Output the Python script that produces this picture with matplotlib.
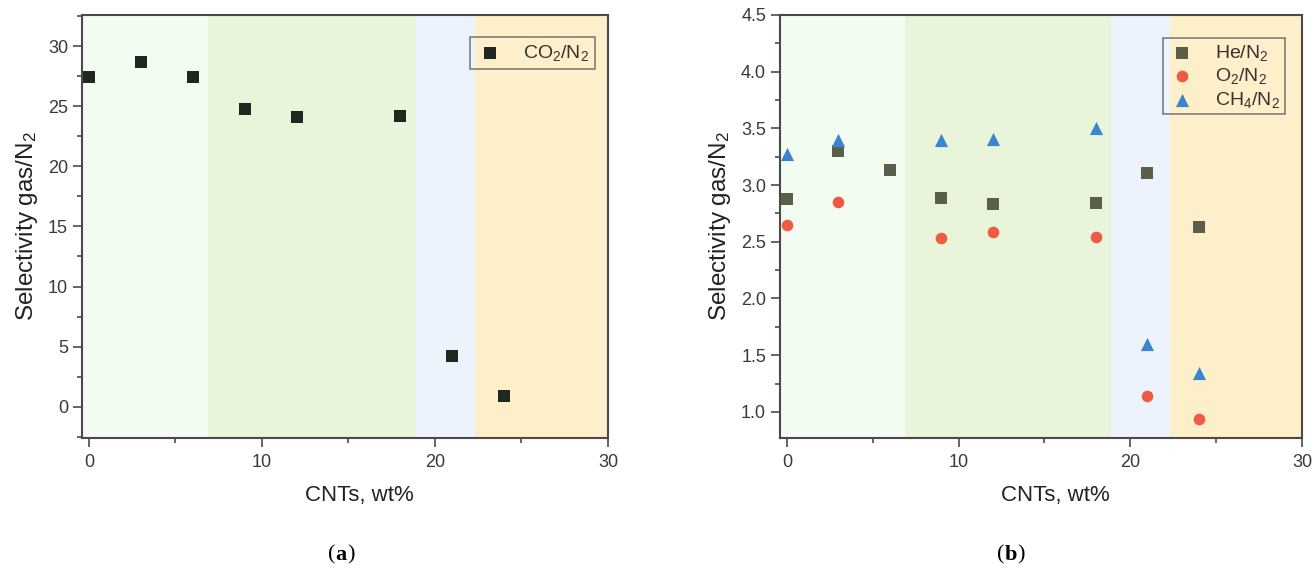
import matplotlib
matplotlib.use("Agg")
import matplotlib.pyplot as plt
from matplotlib.ticker import MultipleLocator, FormatStrFormatter

plt.rcParams["font.family"] = ["Liberation Sans", "DejaVu Sans"]
plt.rcParams["mathtext.fontset"] = "custom"
plt.rcParams["mathtext.rm"] = "Liberation Sans"
plt.rcParams["mathtext.it"] = "Liberation Sans:italic"
plt.rcParams["mathtext.bf"] = "Liberation Sans:bold"

# CNT loading (wt%)
cnt_a = [0, 3, 6, 9, 12, 18, 21, 24]
co2_n2 = [27.4, 28.7, 27.4, 24.8, 24.1, 24.2, 4.2, 0.9]

cnt_he = [0, 3, 6, 9, 12, 18, 21, 24]
he_n2 = [2.88, 3.30, 3.13, 2.89, 2.83, 2.84, 3.11, 2.63]

cnt_o2 = [0, 3, 9, 12, 18, 21, 24]
o2_n2 = [2.65, 2.85, 2.53, 2.59, 2.54, 1.14, 0.94]

cnt_ch4 = [0, 3, 9, 12, 18, 21, 24]
ch4_n2 = [3.27, 3.40, 3.40, 3.41, 3.50, 1.60, 1.34]

# composition regions along the CNT axis
region_edges = [-0.4, 6.9, 18.9, 22.3, 30.0]
region_colors = ["#f3fcf1", "#e8f5da", "#ecf3fc", "#fdefc9"]

spine_col = "#4a4a4a"
tick_col = "#3a3a3a"

fig = plt.figure(figsize=(13.16, 5.74), dpi=100)
ax_a = fig.add_axes([0.0623, 0.237, 0.3997, 0.737])
ax_b = fig.add_axes([0.5927, 0.237, 0.3966, 0.737])


def style_axes(ax, ylim, ymaj, ymin):
    ax.set_xlim(-0.4, 30)
    ax.set_ylim(*ylim)
    for i in range(len(region_colors)):
        ax.axvspan(region_edges[i], region_edges[i + 1], color=region_colors[i],
                   lw=0, zorder=0)
    ax.xaxis.set_major_locator(MultipleLocator(10))
    ax.xaxis.set_minor_locator(MultipleLocator(5))
    ax.yaxis.set_major_locator(MultipleLocator(ymaj))
    ax.yaxis.set_minor_locator(MultipleLocator(ymin))
    ax.tick_params(which="both", direction="out", colors=spine_col,
                   labelcolor=tick_col, labelsize=13, width=1.2)
    ax.tick_params(which="major", length=6.5, pad=3.5)
    ax.tick_params(which="minor", length=3.6)
    ax.tick_params(axis="x", which="major", pad=5)
    for s in ax.spines.values():
        s.set_color(spine_col)
        s.set_linewidth(1.5)
    ax.set_xlabel("CNTs, wt%", fontsize=16, color="#222222")
    ax.xaxis.set_label_coords(0.528, -0.137, transform=ax.transAxes)
    ax.xaxis.label.set_va("center")
    ax.set_ylabel("Selectivity gas/N$_2$", fontsize=17.5, color="#222222",
                  labelpad=6)


def style_legend(leg):
    fr = leg.get_frame()
    fr.set_edgecolor("#555555")
    fr.set_facecolor("none")
    fr.set_linewidth(1.1)
    for t in leg.get_texts():
        t.set_color("#333333")


style_axes(ax_a, (-2.6, 32.6), 5, 2.5)
ax_a.scatter(cnt_a, co2_n2, marker="s", s=70, color="#1f2820", lw=0, zorder=3,
             label="CO$_2$/N$_2$")
leg_a = ax_a.legend(loc="upper right", bbox_to_anchor=(0.975, 0.948), fontsize=14,
                    frameon=True, fancybox=False, borderpad=0.3, handletextpad=1.0,
                    handlelength=1.4, borderaxespad=0)
style_legend(leg_a)

style_axes(ax_b, (0.77, 4.5), 0.5, 0.25)
ax_b.yaxis.set_major_formatter(FormatStrFormatter("%.1f"))
ax_b.scatter(cnt_he, he_n2, marker="s", s=70, color="#5b5f4a", lw=0, zorder=3,
             label="He/N$_2$")
ax_b.scatter(cnt_o2, o2_n2, marker="o", s=70, color="#ef5a44", lw=0, zorder=3,
             label="O$_2$/N$_2$")
ax_b.scatter(cnt_ch4, ch4_n2, marker="^", s=90, color="#3a84d0", lw=0, zorder=3,
             label="CH$_4$/N$_2$")
leg_b = ax_b.legend(loc="upper right", bbox_to_anchor=(0.967, 0.946), fontsize=14,
                    frameon=True, fancybox=False, borderpad=0.25, handletextpad=1.0,
                    handlelength=1.4, labelspacing=0.18, borderaxespad=0)
style_legend(leg_b)

# panel captions
cap_font = ["Liberation Serif", "DejaVu Serif"]
for xc, letter in ((0.2545, "a"), (0.7635, "b")):
    fig.text(xc, 0.016, "(", ha="right", va="bottom", fontsize=16, family=cap_font)
    fig.text(xc, 0.016, letter, ha="left", va="bottom", fontsize=16,
             family=cap_font, weight="bold")
    fig.text(xc + 0.0092, 0.016, ")", ha="left", va="bottom", fontsize=16,
             family=cap_font)

fig.savefig("out.png", dpi=100, facecolor="white")
